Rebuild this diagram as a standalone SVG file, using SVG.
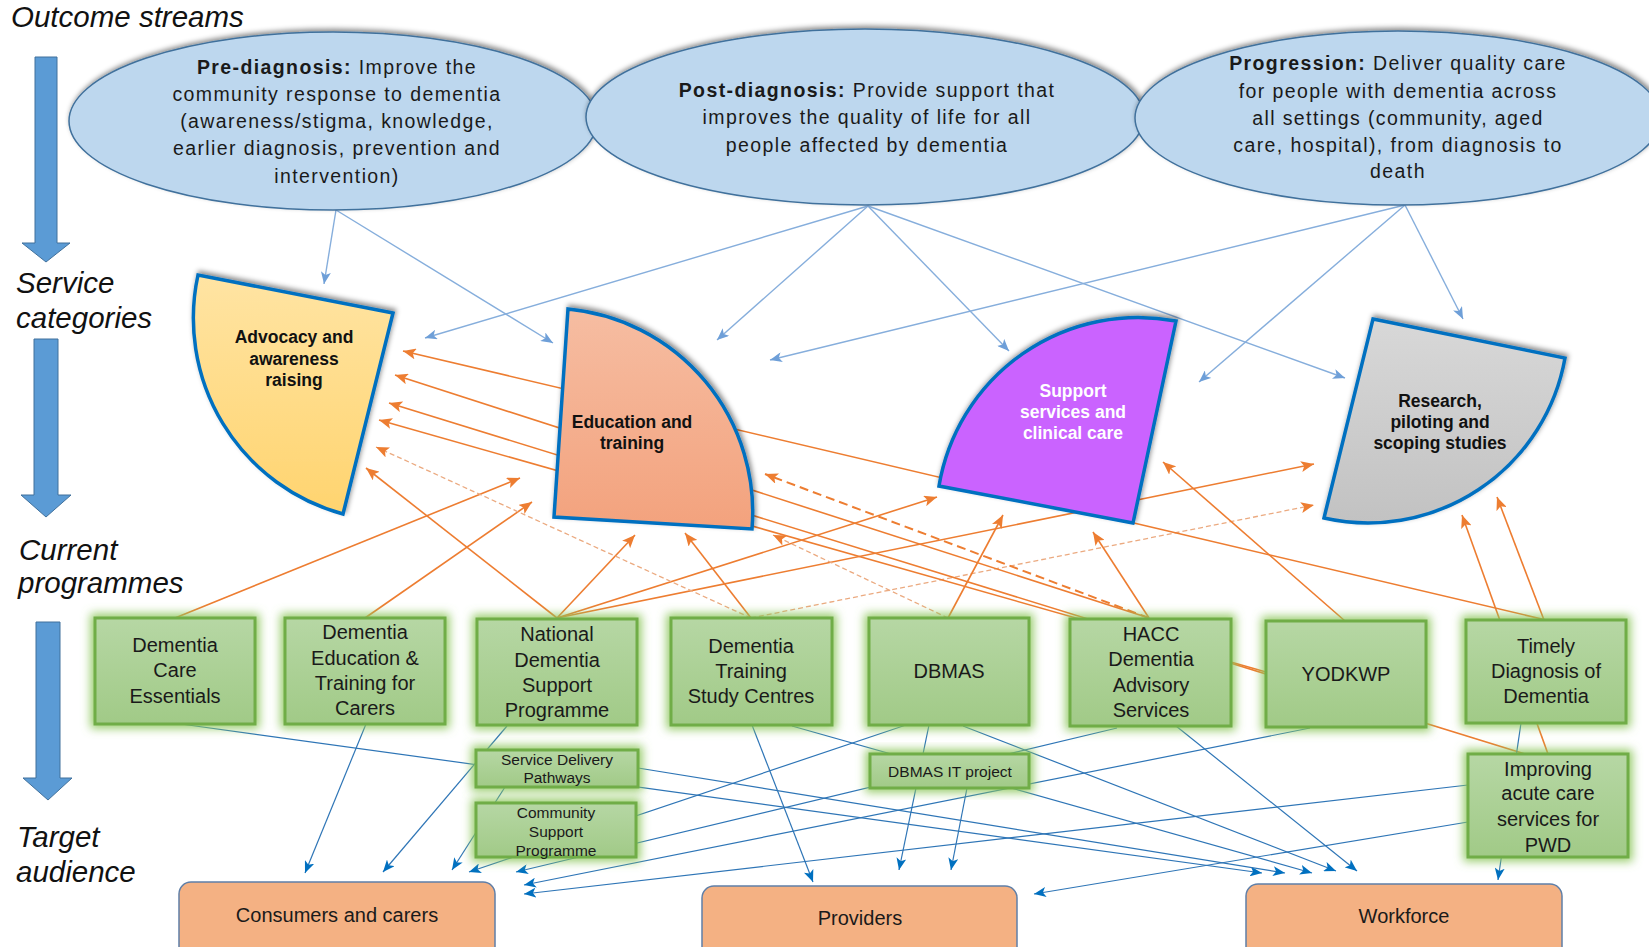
<svg xmlns="http://www.w3.org/2000/svg" width="1649" height="947" viewBox="0 0 1649 947">
<defs>
<style>
.lbl{font-family:"Liberation Sans",Arial,sans-serif;font-style:italic;font-size:29.5px;fill:#111}
.ell{fill:#BDD7EE;stroke:#41719C;stroke-width:1.5;filter:url(#sh)}
.et{font-family:"Liberation Sans",Arial,sans-serif;font-size:19.5px;letter-spacing:1.4px;fill:#1a1a1a;text-anchor:middle}
.sec{stroke:#0070C0;stroke-width:3.5;stroke-linejoin:miter;filter:url(#sh)}
.st{font-family:"Liberation Sans",Arial,sans-serif;font-size:17.5px;font-weight:bold;fill:#111;text-anchor:middle}
.box{fill:url(#gBox);stroke:#70AD47;stroke-width:3;filter:url(#glow)}
.bt{font-family:"Liberation Sans",Arial,sans-serif;font-size:20px;fill:#1a1a1a;text-anchor:middle}
.sbt{font-family:"Liberation Sans",Arial,sans-serif;font-size:15.5px;fill:#1a1a1a;text-anchor:middle}
.tgt{fill:#F4B183;stroke:#5F7FA8;stroke-width:1.5}
.big{fill:#5B9BD5;stroke:#41719C;stroke-width:1}
.cb{stroke:#86AEDC;stroke-width:1.4;fill:none;marker-end:url(#abt)}
.co{stroke:#ED7D31;stroke-width:1.6;fill:none;marker-end:url(#ao)}
.cod{stroke:#ED7D31;stroke-width:2;fill:none;stroke-dasharray:9 5;marker-end:url(#ao)}
.col{stroke:#EBAA80;stroke-width:1.3;fill:none;stroke-dasharray:5 3;marker-end:url(#ao)}
.cl{stroke:#2E75B6;stroke-width:1.2;fill:none;marker-end:url(#ab)}
</style>
<marker id="abt" markerUnits="userSpaceOnUse" markerWidth="13" markerHeight="10" refX="12" refY="5" orient="auto"><path d="M0,0 L12,5 L0,10 L3,5 z" fill="#6E9FD8"/></marker>
<marker id="ao" markerUnits="userSpaceOnUse" markerWidth="14" markerHeight="11" refX="13" refY="5.5" orient="auto"><path d="M0,0 L13,5.5 L0,11 L3,5.5 z" fill="#ED7D31"/></marker>
<marker id="ab" markerUnits="userSpaceOnUse" markerWidth="13" markerHeight="10" refX="12" refY="5" orient="auto"><path d="M0,0 L12,5 L0,10 L3,5 z" fill="#0070C0"/></marker>
<filter id="sh" x="-10%" y="-20%" width="120%" height="140%"><feDropShadow dx="1.5" dy="-2.5" stdDeviation="2.5" flood-color="#000" flood-opacity="0.45"/></filter>
<filter id="glow" x="-25%" y="-35%" width="150%" height="170%"><feMorphology in="SourceAlpha" operator="dilate" radius="3" result="d"/><feGaussianBlur in="d" stdDeviation="5" result="b"/><feFlood flood-color="#8CC65A" flood-opacity="0.9"/><feComposite in2="b" operator="in" result="g"/><feMerge><feMergeNode in="g"/><feMergeNode in="SourceGraphic"/></feMerge></filter>
<linearGradient id="gBox" x1="0" y1="0" x2="0" y2="1"><stop offset="0" stop-color="#B6D7A4"/><stop offset="1" stop-color="#A1CA87"/></linearGradient>
<linearGradient id="gAdv" x1="0" y1="0" x2="0" y2="1"><stop offset="0" stop-color="#FFE4A3"/><stop offset="1" stop-color="#FFD46F"/></linearGradient>
<linearGradient id="gEdu" x1="0" y1="0" x2="0" y2="1"><stop offset="0" stop-color="#F6BDA2"/><stop offset="1" stop-color="#F3A27D"/></linearGradient>
<linearGradient id="gRes" x1="0" y1="0" x2="0" y2="1"><stop offset="0" stop-color="#D8D8D8"/><stop offset="1" stop-color="#C2C2C2"/></linearGradient>
</defs>
<rect width="1649" height="947" fill="#fff"/>

<g id="stage-labels">
<text class="lbl" x="11" y="27">Outcome streams</text>
<text class="lbl" x="16" y="293">Service</text>
<text class="lbl" x="16" y="328">categories</text>
<text class="lbl" x="19" y="560">Current</text>
<text class="lbl" x="18" y="593">programmes</text>
<text class="lbl" x="17" y="847">Target</text>
<text class="lbl" x="16" y="882">audience</text>
<path class="big" d="M35,57 H57 V243 H70 L46,262 L22,243 H35 Z"/>
<path class="big" d="M34,339 H58 V495 H71 L46,517 L21,495 H34 Z"/>
<path class="big" d="M36,622 H60 V778 H72 L48,800 L23,778 H36 Z"/>
</g>

<g id="connectors">
<line class="cb" x1="336" y1="210" x2="324" y2="284"/>
<line class="cb" x1="336" y1="210" x2="553" y2="343"/>
<line class="cb" x1="868" y1="206" x2="425" y2="338"/>
<line class="cb" x1="868" y1="206" x2="717" y2="340"/>
<line class="cb" x1="868" y1="206" x2="1009" y2="351"/>
<line class="cb" x1="868" y1="206" x2="1345" y2="378"/>
<line class="cb" x1="1405" y1="205" x2="770" y2="360"/>
<line class="cb" x1="1405" y1="205" x2="1199" y2="382"/>
<line class="cb" x1="1405" y1="205" x2="1463" y2="319"/>
<line class="co" x1="175" y1="618" x2="520" y2="478"/>
<line class="co" x1="365" y1="618" x2="532" y2="502"/>
<line class="co" x1="557" y1="618" x2="366" y2="468"/>
<line class="co" x1="557" y1="618" x2="635" y2="535"/>
<line class="co" x1="557" y1="618" x2="937" y2="497"/>
<line class="co" x1="557" y1="618" x2="1314" y2="464"/>
<line class="col" x1="751" y1="618" x2="376" y2="447"/>
<line class="co" x1="751" y1="618" x2="685" y2="533"/>
<line class="col" x1="751" y1="618" x2="1314" y2="505"/>
<line class="col" x1="948" y1="618" x2="773" y2="535"/>
<line class="co" x1="948" y1="618" x2="1003" y2="515"/>
<line class="co" x1="1149" y1="618" x2="395" y2="375"/>
<line class="cod" x1="1149" y1="618" x2="765" y2="474"/>
<line class="co" x1="1149" y1="618" x2="1093" y2="532"/>
<line class="co" x1="1266" y1="672" x2="379" y2="420"/>
<line class="co" x1="1345" y1="621" x2="1163" y2="462"/>
<line class="co" x1="1546" y1="620" x2="403" y2="351"/>
<line class="co" x1="1544" y1="620" x2="1497" y2="497"/>
<line class="co" x1="1525" y1="754" x2="389" y2="403"/>
<line class="co" x1="1548" y1="754" x2="1462" y2="515"/>
<line class="cl" x1="366" y1="724" x2="305" y2="873"/>
<line class="cl" x1="507" y1="726" x2="383" y2="872"/>
<line class="cl" x1="505" y1="787" x2="452" y2="870"/>
<line class="cl" x1="906" y1="725" x2="469" y2="872"/>
<line class="cl" x1="1117" y1="728" x2="516" y2="872"/>
<line class="cl" x1="1310" y1="728" x2="524" y2="885"/>
<line class="cl" x1="1468" y1="785" x2="524" y2="894"/>
<line class="cl" x1="752" y1="725" x2="813" y2="882"/>
<line class="cl" x1="929" y1="725" x2="899" y2="870"/>
<line class="cl" x1="967" y1="788" x2="951" y2="870"/>
<line class="cl" x1="1468" y1="822" x2="1034" y2="894"/>
<line class="cl" x1="181" y1="724" x2="1262" y2="873"/>
<line class="cl" x1="638" y1="768" x2="1285" y2="873"/>
<line class="cl" x1="792" y1="726" x2="1312" y2="873"/>
<line class="cl" x1="963" y1="726" x2="1336" y2="871"/>
<line class="cl" x1="1176" y1="726" x2="1357" y2="871"/>
<line class="cl" x1="1521" y1="723" x2="1498" y2="880"/>
</g>

<g id="outcome-pre">
<ellipse class="ell" cx="333" cy="121" rx="264" ry="89"/>
<text class="et" x="337" y="74"><tspan font-weight="bold">Pre-diagnosis:</tspan> Improve the</text>
<text class="et" x="337" y="101">community response to dementia</text>
<text class="et" x="337" y="128">(awareness/stigma, knowledge,</text>
<text class="et" x="337" y="155">earlier diagnosis, prevention and</text>
<text class="et" x="337" y="183">intervention)</text>
</g>
<g id="outcome-post">
<ellipse class="ell" cx="865" cy="117" rx="279" ry="88"/>
<text class="et" x="867" y="97"><tspan font-weight="bold">Post-diagnosis:</tspan> Provide support that</text>
<text class="et" x="867" y="124">improves the quality of life for all</text>
<text class="et" x="867" y="152">people affected by dementia</text>
</g>
<g id="outcome-progression">
<ellipse class="ell" cx="1398" cy="118" rx="263" ry="87"/>
<text class="et" x="1398" y="70"><tspan font-weight="bold">Progression:</tspan> Deliver quality care</text>
<text class="et" x="1398" y="98">for people with dementia across</text>
<text class="et" x="1398" y="125">all settings (community, aged</text>
<text class="et" x="1398" y="152">care, hospital), from diagnosis to</text>
<text class="et" x="1398" y="178">death</text>
</g>

<g id="cat-advocacy">
<path class="sec" fill="url(#gAdv)" d="M393,313 L198,275 A203,203 0 0 0 343,514 Z"/>
<text class="st" x="294" y="343">Advocacy and</text>
<text class="st" x="294" y="365">awareness</text>
<text class="st" x="294" y="386">raising</text>
</g>
<g id="cat-education">
<path class="sec" fill="url(#gEdu)" d="M554,517 L568,309 A204,204 0 0 1 752,529 Z"/>
<text class="st" x="632" y="428" font-size="18">Education and</text>
<text class="st" x="632" y="449" font-size="18">training</text>
</g>
<g id="cat-support">
<path class="sec" fill="#CA64FF" d="M1133,523 L939,486 A202,202 0 0 1 1176,321 Z"/>
<text class="st" x="1073" y="397" style="fill:#fff">Support</text>
<text class="st" x="1073" y="418" style="fill:#fff">services and</text>
<text class="st" x="1073" y="439" style="fill:#fff">clinical care</text>
</g>
<g id="cat-research">
<path class="sec" fill="url(#gRes)" d="M1373,319 L1565,358 A200,200 0 0 1 1324,518 Z"/>
<text class="st" x="1440" y="407">Research,</text>
<text class="st" x="1440" y="428">piloting and</text>
<text class="st" x="1440" y="449">scoping studies</text>
</g>

<g id="prog-dce">
<rect class="box" x="95" y="618" width="160" height="106"/>
<text class="bt" x="175" y="652">Dementia</text>
<text class="bt" x="175" y="677">Care</text>
<text class="bt" x="175" y="703">Essentials</text>
</g>
<g id="prog-detc">
<rect class="box" x="285" y="618" width="160" height="106"/>
<text class="bt" x="365" y="639">Dementia</text>
<text class="bt" x="365" y="665">Education &amp;</text>
<text class="bt" x="365" y="690">Training for</text>
<text class="bt" x="365" y="715">Carers</text>
</g>
<g id="prog-ndsp">
<rect class="box" x="477" y="619" width="160" height="106"/>
<text class="bt" x="557" y="641">National</text>
<text class="bt" x="557" y="667">Dementia</text>
<text class="bt" x="557" y="692">Support</text>
<text class="bt" x="557" y="717">Programme</text>
</g>
<g id="prog-sdp">
<rect class="box" x="476" y="750" width="162" height="37"/>
<text class="sbt" x="557" y="765">Service Delivery</text>
<text class="sbt" x="557" y="783">Pathways</text>
</g>
<g id="prog-csp">
<rect class="box" x="476" y="803" width="160" height="54"/>
<text class="sbt" x="556" y="818">Community</text>
<text class="sbt" x="556" y="837">Support</text>
<text class="sbt" x="556" y="856">Programme</text>
</g>
<g id="prog-dtsc">
<rect class="box" x="671" y="618" width="161" height="107"/>
<text class="bt" x="751" y="653">Dementia</text>
<text class="bt" x="751" y="678">Training</text>
<text class="bt" x="751" y="703">Study Centres</text>
</g>
<g id="prog-dbmas">
<rect class="box" x="869" y="618" width="160" height="107"/>
<text class="bt" x="949" y="678">DBMAS</text>
</g>
<g id="prog-dbmas-it">
<rect class="box" x="870" y="754" width="159" height="34"/>
<text class="sbt" x="950" y="777">DBMAS IT project</text>
</g>
<g id="prog-hacc">
<rect class="box" x="1070" y="619" width="161" height="107"/>
<text class="bt" x="1151" y="641">HACC</text>
<text class="bt" x="1151" y="666">Dementia</text>
<text class="bt" x="1151" y="692">Advisory</text>
<text class="bt" x="1151" y="717">Services</text>
</g>
<g id="prog-yodkwp">
<rect class="box" x="1266" y="621" width="160" height="106"/>
<text class="bt" x="1346" y="681">YODKWP</text>
</g>
<g id="prog-timely">
<rect class="box" x="1466" y="620" width="160" height="103"/>
<text class="bt" x="1546" y="653">Timely</text>
<text class="bt" x="1546" y="678">Diagnosis of</text>
<text class="bt" x="1546" y="703">Dementia</text>
</g>
<g id="prog-acute">
<rect class="box" x="1468" y="754" width="160" height="103"/>
<text class="bt" x="1548" y="776">Improving</text>
<text class="bt" x="1548" y="800">acute care</text>
<text class="bt" x="1548" y="826">services for</text>
<text class="bt" x="1548" y="852">PWD</text>
</g>

<g id="target-consumers">
<rect class="tgt" x="179" y="882" width="316" height="80" rx="12"/>
<text class="bt" x="337" y="922">Consumers and carers</text>
</g>
<g id="target-providers">
<rect class="tgt" x="702" y="886" width="315" height="80" rx="12"/>
<text class="bt" x="860" y="925">Providers</text>
</g>
<g id="target-workforce">
<rect class="tgt" x="1246" y="884" width="316" height="80" rx="12"/>
<text class="bt" x="1404" y="923">Workforce</text>
</g>
</svg>
